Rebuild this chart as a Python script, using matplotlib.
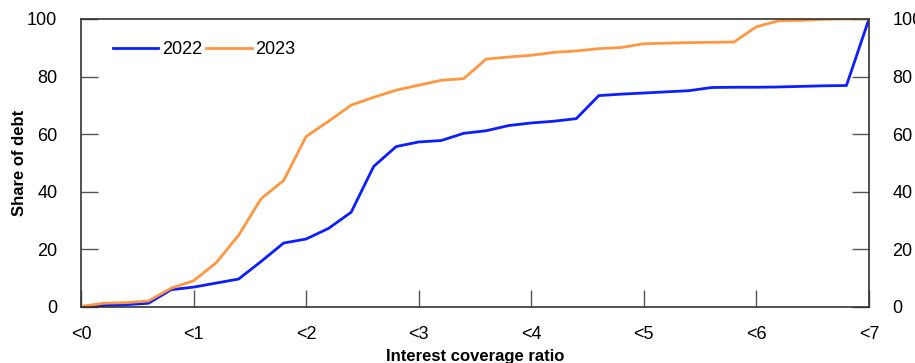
import numpy as np
import matplotlib.pyplot as plt

plt.rcParams['font.family'] = ['Liberation Sans', 'DejaVu Sans']

# interest coverage ratio buckets, step 0.2
icr = np.round(np.arange(0, 7.01, 0.2), 1)

share_2022 = [0.0, 0.5, 0.8, 1.3, 6.0, 6.9, 8.3, 9.7, 15.8, 22.2,
              23.6, 27.3, 32.9, 48.8, 55.7, 57.3, 57.8, 60.3, 61.2, 63.0,
              63.9, 64.5, 65.4, 73.4, 73.9, 74.3, 74.7, 75.1, 76.2, 76.3,
              76.3, 76.4, 76.6, 76.8, 76.9, 100.0]
share_2023 = [0.2, 1.3, 1.5, 2.1, 6.5, 9.1, 15.3, 24.9, 37.6, 43.9,
              59.2, 64.5, 70.1, 72.8, 75.3, 77.0, 78.7, 79.3, 86.1, 86.8,
              87.4, 88.4, 88.9, 89.7, 90.1, 91.4, 91.6, 91.8, 91.9, 92.0,
              97.3, 99.4, 99.5, 99.9, 100.0, 100.0]

xticks = [0, 1, 2, 3, 4, 5, 6, 7]
xlabels = ['<0', '<1', '<2', '<3', '<4', '<5', '<6', '<7']
yticks = [0, 20, 40, 60, 80, 100]

fig = plt.figure(figsize=(9.15, 3.63), dpi=100)
ax = fig.add_axes([0.0885, 0.1543, 0.8612, 0.7934])

ax.plot(icr, share_2022, color='#0a1eff', lw=2.0, label='2022')
ax.plot(icr, share_2023, color='#ff9640', lw=2.0, label='2023')

ax.set_xlim(0, 7)
ax.set_ylim(0, 100)
ax.set_xticks(xticks)
ax.set_xticklabels(xlabels)
ax.set_yticks(yticks)

ax.tick_params(axis='both', direction='in', length=12, width=1, color='#555555',
               labelsize=13)
ax.tick_params(axis='y', right=True, labelright=True, pad=17)
ax.tick_params(axis='x', pad=14)

for s in ax.spines.values():
    s.set_color('#333333')
    s.set_linewidth(1.2)

ax.set_ylabel('Share of debt', fontsize=12, fontweight='bold', labelpad=0)
ax.set_xlabel('Interest coverage ratio', fontsize=12, fontweight='bold', labelpad=4)

ax.legend(loc='upper left', ncol=2, frameon=False, fontsize=13,
          handlelength=2.5, handletextpad=0.2, columnspacing=0.25,
          bbox_to_anchor=(0.02, 0.98))

fig.savefig('out.png', dpi=100)
